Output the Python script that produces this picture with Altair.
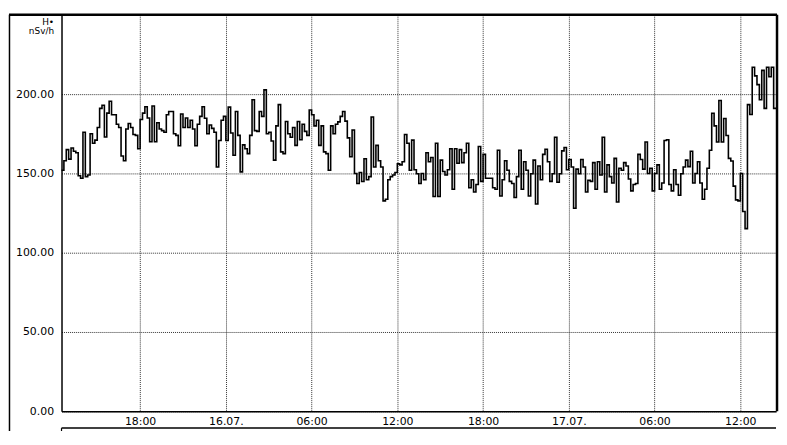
import altair as alt
import pandas as pd

# ---- data (10-minute dose-rate values, nSv/h) ----
seg_a = [152, 158, 165, 159, 166, 164, 163, 148.5, 147, 176,
         148, 149, 175, 169, 171, 179, 191, 193, 173, 188,
         195.5, 187, 187, 181, 179, 161, 158, 178, 181.5, 179,
         174.5, 174, 165.6, 184, 188, 192, 185, 170, 192.5, 170,
         182, 178, 177, 176, 187, 189, 189, 175, 174, 167.5,
         187.5, 179, 185, 179, 183.5, 178, 167.5, 181, 186, 192]
seg_b = [184.8, 175, 180.5, 178.4, 176, 154, 170.8, 183.5, 186, 170.8,
         191.8, 175.5, 161.5, 189, 174, 151, 168, 165.6, 162.5, 174,
         196.5, 177, 176.5, 189, 186, 202.7, 175, 176, 170.4, 158.4,
         180, 193.4, 163.6, 162.5, 182.7, 175, 172.8, 179, 167.7, 182.7,
         171.2, 181, 176.5, 174, 190, 187, 180, 183.5, 167.7, 180,
         163.6, 162.5, 152, 180, 175, 181, 182.5, 186, 189, 183]
seg_c = [172.4, 160.5, 177.4, 150, 143.6, 150.6, 144.9, 159.3, 146, 148,
         185.6, 154, 167.7, 158, 154, 132.7, 133.7, 146, 148, 149,
         150.6, 156, 155.4, 157.4, 174.5, 169, 152, 171, 152.3, 149.8,
         143.6, 150, 146, 163, 157.4, 160, 135.4, 169, 135.4, 158.4,
         151.2, 149, 152.3, 165.6, 140, 165.6, 156.4, 165, 156.8, 163,
         169, 141, 146, 138.3, 143, 167, 145, 162, 147, 147]
seg_d = [147, 141, 140, 164.6, 135.8, 146, 158, 152, 145, 143.6,
         134.8, 148, 164.6, 140, 157.4, 152, 135.8, 149.8, 158.4, 130.7,
         154.7, 146, 162, 165.2, 157.4, 145, 149.8, 172.8, 144.4, 149.8,
         164.2, 166.3, 152.3, 158.8, 154, 128, 152.7, 149.8, 158.8, 154,
         138.3, 145.7, 145, 156.8, 140, 157.4, 149, 172.8, 138.3, 155.4,
         148, 144, 159.5, 132, 153.3, 152, 156.8, 154.7, 146.5, 139]
seg_e = [143, 143.6, 162, 158.8, 152.7, 169.8, 150, 153.3, 139, 150,
         155.4, 140, 144, 170.8, 171.2, 143, 139, 152.3, 143, 136.2,
         149.8, 154, 158.4, 154.3, 164, 144, 150, 157.4, 144, 133.7,
         140, 153.3, 164.6, 187.9, 180, 169.8, 196, 169.8, 184.6, 173.9,
         159.5, 157.8, 142, 133.3, 132.7, 150, 126, 115.2, 193.4, 187.2,
         217, 211.5, 206, 196.5, 215, 191, 217, 211, 217, 191]

start_time = "2014-07-15 12:30"
step_minutes = 10
y_ticks = [0, 50, 100, 150, 200]
x_tick_times = ["2014-07-15 18:00", "2014-07-16 00:00", "2014-07-16 06:00",
                "2014-07-16 12:00", "2014-07-16 18:00", "2014-07-17 00:00",
                "2014-07-17 06:00", "2014-07-17 12:00"]
y_title = ["H\u2022", "nSv/h"]


def ms(s):
    return int(pd.Timestamp(s, tz="UTC").value // 10**6)


values = seg_a + seg_b + seg_c + seg_d + seg_e
t0 = ms(start_time)
step = step_minutes * 60 * 1000
t_end = t0 + len(values) * step
df = pd.DataFrame({
    "t": [t0 + i * step for i in range(len(values))] + [t_end],
    "v": values + [values[-1]],
})

W, H = 721, 400
FONT = "DejaVu Sans"
one = pd.DataFrame({"k": [0]})

line = alt.Chart(df).mark_line(
    interpolate="step-after", color="black", strokeWidth=1.6
).encode(
    x=alt.X("t:T",
            scale=alt.Scale(type="utc", domain=[t0, t_end], nice=False),
            axis=alt.Axis(
                values=[ms(s) for s in x_tick_times],
                labelExpr="utchours(datum.value) == 0 ? utcFormat(datum.value, '%d.%m.') : utcFormat(datum.value, '%H:%M')",
                title=None, grid=True, gridDash=[1, 1], gridColor="#333",
                gridWidth=1, ticks=False, domainColor="black", domainWidth=1.5,
                labelPadding=4, labelFont=FONT, labelFontSize=11,
                labelColor="black", labelFlush=False)),
    y=alt.Y("v:Q",
            scale=alt.Scale(domain=[0, 250], nice=False),
            axis=alt.Axis(
                values=y_ticks, format=".2f", grid=True, gridDash=[1, 1],
                gridColor="#333", gridWidth=1, ticks=False,
                domainColor="black", domainWidth=1.5, labelPadding=8,
                labelFont=FONT, labelFontSize=11, labelColor="black",
                title=y_title, titleAngle=0, titleAlign="right",
                titleBaseline="top", titleX=-8, titleY=3,
                titleFont=FONT, titleFontSize=9, titleFontWeight="normal",
                titleLineHeight=9, titleColor="black")),
)

top_rule = alt.Chart(one).mark_rule(color="black", strokeWidth=2.5).encode(
    x=alt.value(-53), x2=alt.value(W + 1), y=alt.value(0))
right_rule = alt.Chart(one).mark_rule(color="black", strokeWidth=2.5).encode(
    x=alt.value(W + 1), y=alt.value(0), y2=alt.value(H))
left_outer = alt.Chart(one).mark_rule(color="black", strokeWidth=1.5).encode(
    x=alt.value(-52.5), y=alt.value(0), y2=alt.value(H + 40))
scroll_line = alt.Chart(one).mark_rule(color="black", strokeWidth=1.5).encode(
    x=alt.value(0), x2=alt.value(W), y=alt.value(H + 17))
scroll_left = alt.Chart(one).mark_rule(color="black", strokeWidth=1.2).encode(
    x=alt.value(0), y=alt.value(H + 17), y2=alt.value(H + 40))

chart = alt.layer(
    line, top_rule, right_rule, left_outer, scroll_line, scroll_left
).properties(
    width=W, height=H,
    autosize=alt.AutoSizeParams(type="none"),
    padding={"left": 54, "top": 5, "right": 3, "bottom": 18},
    background="white",
).configure_view(stroke=None)

chart.save("out.html", embed_options={"renderer": "svg", "actions": False})
